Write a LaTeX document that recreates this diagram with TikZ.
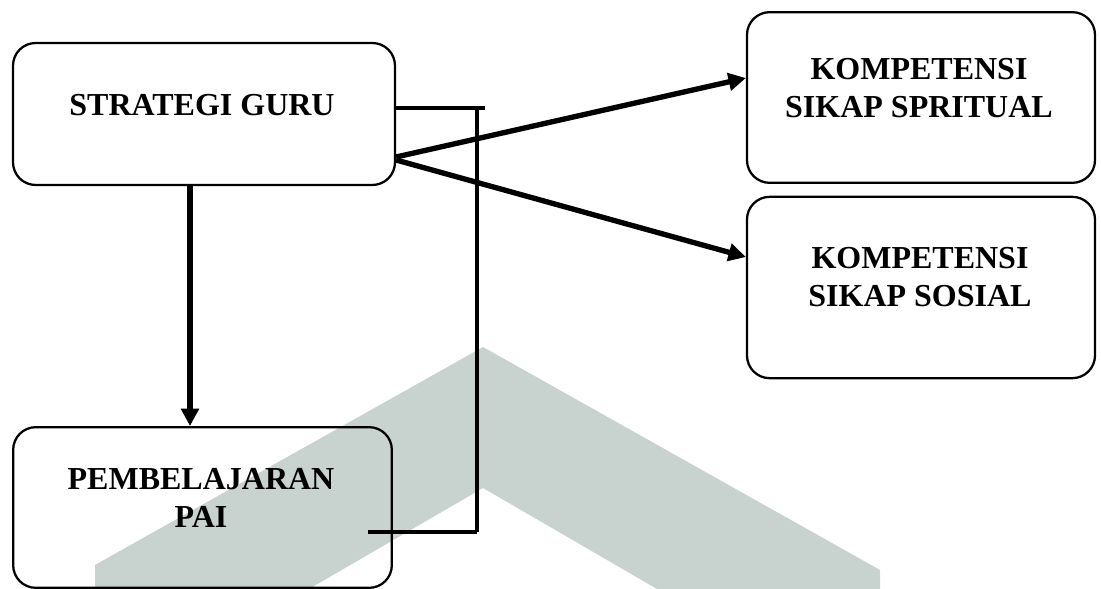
\documentclass[tikz,border=0pt]{standalone}
\usepackage{fontspec}
\setmainfont{Liberation Serif}
\usetikzlibrary{arrows.meta}
\definecolor{wm}{RGB}{200,210,206}
\begin{document}
\begin{tikzpicture}[x=0.75pt,y=-0.75pt,
  box/.style={draw, line width=1.7pt, rounded corners=17pt, inner sep=0pt},
  lbl/.style={font=\fontsize{24}{28.5}\selectfont\bfseries, align=center, inner sep=0pt},
  arr/.style={line width=4pt, -{Triangle[length=13pt,width=13pt]}},
  brk/.style={line width=3.5pt}]
\useasboundingbox (0,0) rectangle (1101,589);
\begin{scope}
\clip (0,0) rectangle (1101,589);
\fill[wm] (95,565) -- (483,347) -- (880,570) -- (880,600) -- (676,600) -- (483,488) -- (290,600) -- (95,600) -- cycle;
\end{scope}
% boxes
\node[box, minimum width=286.5pt, minimum height=106.5pt] (sg) at (204,114) {};
\node[box, minimum width=261pt, minimum height=128pt] (ksp) at (921,97.5) {};
\node[box, minimum width=261pt, minimum height=136pt] (kso) at (921,287.5) {};
\node[box, minimum width=284pt, minimum height=120.5pt] (pai) at (202.5,507.5) {};
% texts
\node[lbl] (tsg) at (202,105) {STRATEGI GURU};
\node[lbl] (tksp) at (919,88) {KOMPETENSI\\SIKAP SPRITUAL};
\node[lbl] (tkso) at (920,277) {KOMPETENSI\\SIKAP SOSIAL};
\node[lbl] (tpai) at (201,498) {PEMBELAJARAN\\PAI};
% connectors
\draw[arr] (sg.south -| 190,0) -- (pai.north -| 190,0);
\draw[arr] (sg.east |- 0,157) -- (ksp.west |- 0,78);
\draw[arr] (sg.east |- 0,160) -- (kso.west |- 0,257);
\coordinate (b1) at (485,108);
\coordinate (b2) at (477,108);
\coordinate (b3) at (477,532);
\coordinate (b4) at (368,532);
\draw[brk] (sg.east |- b1) -- (b1);
\draw[brk] (b2) -- (b3);
\draw[brk] (b3) -- (b4);
\end{tikzpicture}
\end{document}
